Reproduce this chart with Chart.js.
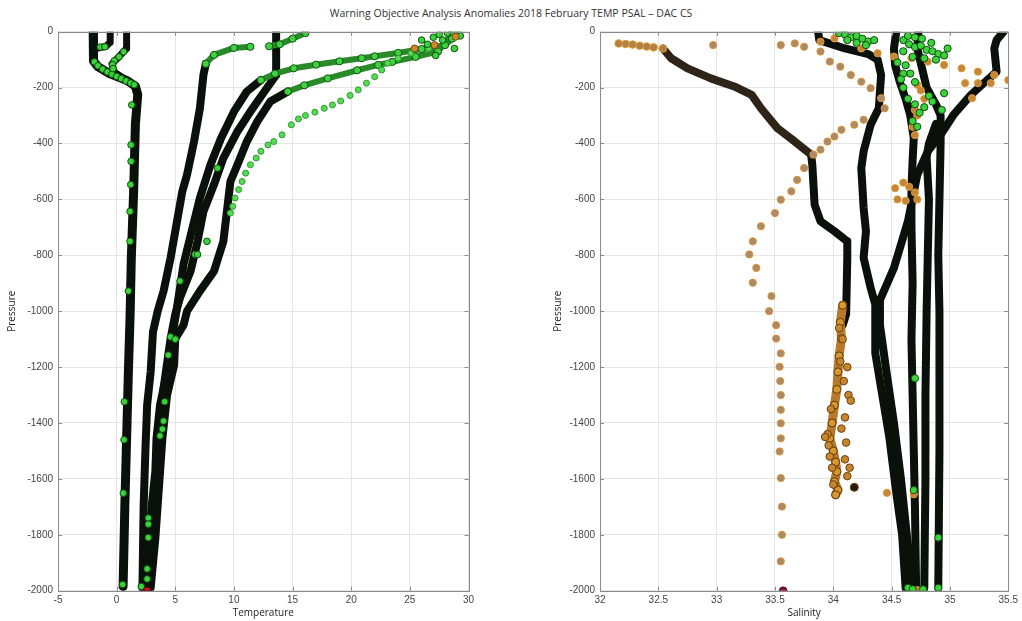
<!DOCTYPE html>
<html><head><meta charset="utf-8">
<script src="https://cdn.jsdelivr.net/npm/chart.js@4.4.0/dist/chart.umd.min.js"></script>
<style>
html,body{margin:0;padding:0;background:#fff;width:1022px;height:621px;overflow:hidden;position:relative;}
#title{position:absolute;left:0;top:6px;width:1022px;text-align:center;font:10.5px 'Open Sans',sans-serif;color:#333;white-space:nowrap;}
#c1{position:absolute;left:0;top:0;}
#c2{position:absolute;left:540px;top:0;}
</style></head>
<body>
<div id="title">Warning Objective Analysis Anomalies 2018 February TEMP PSAL – DAC CS</div>
<canvas id="c1" width="490" height="621"></canvas>
<canvas id="c2" width="482" height="621"></canvas>
<script>
// ---------------- tick labels ----------------
const tempTicks = [-5,0,5,10,15,20,25,30];
const salTicks = [32,32.5,33,33.5,34,34.5,35,35.5];
const presTicks = [0,-200,-400,-600,-800,-1000,-1200,-1400,-1600,-1800,-2000];

// ---------------- TEMPERATURE panel ----------------
const tL1 = [-2.0,-2.0,-1.95,-1.6,-0.6,0.9,1.6,1.8,1.6,1.45,1.25,1.15,1.0,0.85,0.7,0.55];
const pL1 = [0,-55,-105,-125,-150,-175,-195,-225,-330,-570,-810,-1010,-1220,-1455,-1695,-1985];
const tL2 = [-0.55,-0.55,-0.9,-1.5,-1.95];
const pL2 = [0,-38,-52,-58,-62];
const tL3 = [0.85,0.85,0.3,-0.4,-0.2,0.9];
const pL3 = [0,-60,-85,-115,-145,-175];
const tL4 = [7.6,7.4,7.1,6.6,6.0,5.6,5.1,4.6,4.0,3.5,3.1,2.9,2.6,2.45,2.3,2.2];
const pL4 = [-115,-155,-274,-393,-512,-571,-690,-809,-928,-1000,-1074,-1217,-1336,-1500,-1700,-1990];
const tL4g = [11.4,10.0,8.3,7.6];
const pL4g = [-54,-58,-83,-115];
const tW1 = [12.3,11.1,10.0,8.9,8.0,7.1,6.4,5.7,5.1,4.7,4.3,3.7,3.4,3.3,3.0,2.8,2.6];
const pW1 = [-173,-214,-286,-381,-476,-595,-714,-833,-1000,-1098,-1217,-1336,-1455,-1574,-1693,-1812,-1990];
const tW1g = [29.1,28.6,28.0,26.0,24.0,22.0,20.9,19.0,17.0,15.1,13.5,12.3];
const pW1g = [-6,-25,-48,-62,-76,-88,-95,-106,-118,-131,-150,-173];
const tW2 = [14.6,13.1,12.0,11.1,10.3,9.7,9.4,9.1,8.3,7.1,6.0,5.7,5.0,4.9,4.3,3.9,3.6,3.3,2.9];
const pW2 = [-214,-250,-321,-393,-476,-536,-643,-750,-857,-928,-1000,-1050,-1098,-1193,-1300,-1455,-1633,-1812,-1990];
const tW2g = [28.5,28.0,27.4,25.5,23.5,22.3,20.5,18.0,16.0,14.6];
const pW2g = [-10,-40,-71,-90,-108,-119,-138,-167,-192,-214];
const tW3 = [13.6,13.6,13.6,12.6,11.4,10.3,9.1,8.3,7.4,6.9,6.3,5.4,5.0,4.6,4.0,3.6,3.3,2.9,2.7];
const pW3 = [0,-54,-155,-214,-286,-357,-452,-547,-643,-750,-857,-952,-1011,-1098,-1276,-1455,-1693,-1931,-1990];
const tW3g = [16.1,15.0,13.9,13.0];
const pW3g = [-5,-25,-45,-52];
const tW4 = [26.6,25.1,24.0,23.1,22.6,22.0,21.3,20.6,19.9,19.1,18.4,17.7,16.9,16.1,15.5,14.9,14.1,13.4,12.9,12.3,11.9,11.4,11.0,10.7,10.4,10.1,9.9,9.7,7.7,6.7];
const pW4 = [-60,-77,-95,-113,-137,-161,-184,-208,-228,-248,-262,-274,-288,-300,-312,-333,-369,-393,-405,-428,-452,-476,-506,-536,-565,-595,-625,-649,-750,-797];
const tGreenT = [-1.9,-1.6,-1.2,-0.8,-0.4,0.0,0.4,0.8,1.2,1.5,0.6,0.2,-0.2,-0.35,-0.3,-1.4,-1.0,
  1.29,1.23,1.23,1.2,1.14,1.14,1.0,0.66,0.63,0.57,0.51,
  4.6,5.0,4.4,4.1,4.0,3.9,3.7,2.7,2.7,2.7,2.6,2.6,2.1,
  7.7,6.9,5.4,8.6,
  27.0,27.5,28.2,26.5,27.8,28.8,27.2,29.3,26.0];
const pGreenT = [-108,-122,-134,-144,-152,-160,-168,-176,-184,-190,-72,-90,-104,-118,-132,-55,-54,
  -262,-405,-464,-547,-643,-750,-928,-1324,-1460,-1651,-1978,
  -1092,-1100,-1157,-1324,-1393,-1422,-1446,-1740,-1762,-1810,-1922,-1958,-1985,
  -750,-797,-892,-488,
  -20,-10,-5,-45,-30,-60,-85,-15,-30];
const tOrangeT = [25.4,27.1,28.9];
const pOrangeT = [-60,-48,-18];
const tRed = [2.6];
const pRed = [-2000];

// ---------------- SALINITY panel ----------------
const sR1o = [32.16,32.22,32.28,32.34,32.40,32.46,32.54];
const pR1o = [-42,-44,-46,-50,-53,-56,-60];
const sR1b = [32.54,32.61,32.75,32.95,33.15,33.30,33.38,33.52,33.67,33.81];
const pR1b = [-60,-95,-131,-167,-196,-226,-274,-345,-393,-440];
const sR1 = [33.81,33.82,33.84,33.89,34.01,34.12,34.12,34.11,34.08];
const pR1 = [-440,-476,-619,-678,-714,-750,-809,-1011,-1050];
const sR1d = [34.08,34.06,34.07,34.05,34.04,34.03,34.01,33.99,33.97,34.0,34.02,34.03,34.01,34.04,34.02];
const pR1d = [-979,-1040,-1098,-1160,-1217,-1280,-1336,-1400,-1455,-1500,-1540,-1574,-1610,-1640,-1657];
const sR1x = [34.13,34.15,34.10,33.95,34.12,34.08,34.0,33.96,34.1,33.93,33.98,34.12,34.09,34.05,33.97,34.07,34.11,33.99,34.06,34.14];
const pR1x = [-1300,-1320,-1530,-1440,-1200,-1100,-1620,-1480,-1380,-1450,-1350,-1590,-1250,-1060,-1520,-1420,-1470,-1560,-1180,-1560];
const sR2 = [32.97,33.55,33.67,33.75,33.89,33.97,34.06,34.15,34.24,34.32,34.41,34.44,34.26,34.18,34.07,34.01,33.95,33.89,33.83,33.75,33.69,33.64,33.55,33.50,33.38,33.31,33.28,33.34,33.31,33.47,33.45,
  33.51,33.51,33.55,33.54,33.545,33.55,33.55,33.55,33.55,33.54,33.55,33.56,33.56,33.55];
const pR2 = [-48,-48,-42,-54,-71,-107,-125,-155,-179,-202,-238,-274,-315,-333,-351,-375,-393,-422,-440,-488,-530,-571,-601,-649,-696,-750,-797,-845,-898,-946,-1000,
  -1050,-1098,-1151,-1199,-1250,-1300,-1353,-1401,-1455,-1502,-1597,-1699,-1800,-1895];
const sR3 = [33.87,33.88,34.1,34.3,34.38,34.41,34.39,34.32,34.26,34.24,34.26,34.28,34.26,34.32,34.36,34.36,34.42,34.48,34.54,34.59,34.62];
const pR3 = [0,-30,-60,-80,-100,-155,-274,-333,-428,-488,-631,-714,-809,-916,-976,-1150,-1300,-1450,-1650,-1800,-1990];
const sR4 = [35.46,35.40,35.38,35.40,35.29,35.18,35.03,34.92,34.81,34.72,34.64,34.52,34.40,34.40,34.45,34.52,34.58,34.63,34.68];
const pR4 = [0,-30,-60,-143,-184,-226,-298,-369,-428,-512,-678,-845,-960,-1050,-1200,-1400,-1600,-1800,-1990];
const sR5 = [34.54,34.52,34.53,34.57,34.62,34.66,34.69,34.68,34.67,34.67,34.68,34.67,34.68,34.69,34.70,34.71];
const pR5 = [0,-60,-120,-180,-240,-300,-380,-460,-560,-700,-900,-1100,-1300,-1500,-1700,-1990];
const sR6 = [34.73,34.72,34.76,34.80,34.88,34.92,34.92,34.91,34.90,34.91,34.91,34.90];
const pR6 = [0,-60,-130,-200,-260,-300,-400,-600,-800,-1000,-1500,-1990];
const sR7 = [34.88,34.82,34.80,34.82,34.81,34.80,34.79,34.79,34.78];
const pR7 = [-330,-400,-450,-600,-800,-1000,-1300,-1600,-1990];
const sGreenS = [34.05,34.10,34.15,34.20,34.25,34.30,34.35,34.12,34.20,34.28,
  34.60,34.65,34.70,34.75,34.80,34.85,34.90,34.95,34.60,34.68,34.78,34.88,34.62,34.66,34.70,34.60,34.64,34.70,34.74,34.68,34.72,34.60,34.55,34.58,34.82,34.85,34.78,34.98,34.95,34.93,34.70,34.76,34.84,34.64,
  34.70,34.69,34.90,34.64,34.68,34.77,34.90];
const pGreenS = [-5,-10,-20,-15,-25,-35,-30,-30,-40,-48,
  -30,-45,-55,-50,-65,-70,-80,-85,-70,-90,-95,-100,-120,-150,-180,-200,-240,-260,-290,-320,-340,-150,-110,-170,-230,-250,-270,-60,-220,-280,-20,-25,-40,-15,
  -1240,-1640,-1810,-1990,-1995,-1995,-1990];
const sOrangeS = [33.89,34.01,34.12,34.24,34.38,34.52,34.67,34.81,34.95,35.10,35.24,35.38,35.50,35.13,35.24,35.35,35.19,
  34.72,34.75,34.78,34.70,34.72,34.68,34.70,34.53,34.60,34.65,34.70,34.55,34.62,34.72,34.72,34.46,34.69];
const pOrangeS = [-36,-24,-30,-60,-77,-89,-95,-107,-119,-131,-143,-155,-173,-184,-184,-184,-238,
  -190,-210,-240,-280,-300,-340,-370,-560,-540,-555,-575,-600,-605,-600,-1998,-1650,-1655];
const sDark = [34.18];
const pDark = [-1630];
const sMaroon = [33.57];
const pMaroon = [-2000];

// ---------------- helpers ----------------
const pts = (xs, ys) => xs.map((x, i) => ({x: x, y: ys[i]}));
const BLACK = '#0a100a';
function lineDS(xs, ys, color, w, order) {
  return {data: pts(xs, ys), showLine: true, borderColor: color, borderWidth: w, pointRadius: 0,
    borderCapStyle: 'round', borderJoinStyle: 'round', tension: 0, order: order};
}
function dotDS(xs, ys, fill, edge, r, order) {
  return {data: pts(xs, ys), showLine: false, backgroundColor: fill, borderColor: edge, borderWidth: 1,
    pointRadius: r, pointHoverRadius: r, order: order};
}
function greenLineDS(xs, ys, order) {
  return {data: pts(xs, ys), showLine: true, borderColor: '#2a8a2a', borderWidth: 6, pointRadius: 3.6,
    backgroundColor: '#3fd23f', pointBorderColor: '#145014', pointBorderWidth: 1,
    borderCapStyle: 'round', borderJoinStyle: 'round', tension: 0, order: order};
}

const boxPlugin = {
  id: 'boxTicks',
  afterDraw(chart) {
    const {ctx, chartArea: a, scales} = chart;
    const x = scales.x, y = scales.y;
    ctx.save();
    ctx.strokeStyle = '#8a8a8a';
    ctx.lineWidth = 1;
    ctx.beginPath();
    x.ticks.forEach(t => {
      const px = Math.round(x.getPixelForValue(t.value)) + 0.5;
      ctx.moveTo(px, a.bottom); ctx.lineTo(px, a.bottom - 4);
      ctx.moveTo(px, a.top); ctx.lineTo(px, a.top + 4);
    });
    y.ticks.forEach(t => {
      const py = Math.round(y.getPixelForValue(t.value)) + 0.5;
      ctx.moveTo(a.left, py); ctx.lineTo(a.left + 4, py);
      ctx.moveTo(a.right, py); ctx.lineTo(a.right - 4, py);
    });
    ctx.stroke();
    ctx.strokeRect(Math.round(a.left) + 0.5, Math.round(a.top) + 0.5, Math.round(a.right - a.left), Math.round(a.bottom - a.top));
    ctx.restore();
  }
};

function makeOptions(cfg) {
  const tickFont = {family: "'Liberation Sans', Arial, sans-serif", size: 10};
  const titleFont = {family: "'Open Sans', sans-serif", size: 10};
  return {
    responsive: false, animation: false, events: [],
    layout: {padding: {top: 31.7, right: cfg.padRight, bottom: 0, left: 0}},
    plugins: {legend: {display: false}, tooltip: {enabled: false}, title: {display: false}},
    scales: {
      x: {type: 'linear', min: cfg.xmin, max: cfg.xmax,
        afterBuildTicks: s => { s.ticks = cfg.xTicks.map(v => ({value: v})); },
        ticks: {font: tickFont, color: '#444', padding: 4, maxRotation: 0, autoSkip: false, callback: v => String(v)},
        grid: {color: '#e6e6e6', drawTicks: false},
        border: {display: false},
        title: {display: true, text: cfg.xTitle, font: titleFont, color: '#222', padding: {top: 0, bottom: 2}},
        afterFit: s => { s.height = 621 - 590.7; }
      },
      y: {type: 'linear', min: -2000, max: 0,
        afterBuildTicks: s => { s.ticks = presTicks.map(v => ({value: v})); },
        ticks: {font: tickFont, color: '#444', padding: 5, autoSkip: false, callback: v => String(v)},
        grid: {color: '#e6e6e6', drawTicks: false},
        border: {display: false},
        title: {display: true, text: 'Pressure', font: titleFont, color: '#222', padding: {top: cfg.yTitlePad, bottom: 0}},
        afterFit: s => { s.width = cfg.yWidth; }
      }
    }
  };
}

// ---------------- temperature chart ----------------
new Chart(document.getElementById('c1'), {
  type: 'scatter',
  data: {datasets: [
    dotDS(tRed, pRed, '#d0102a', '#7a0010', 3.5, 1),
    dotDS(tOrangeT, pOrangeT, '#d08a2a', '#7a4a10', 3.5, 2),
    dotDS(tGreenT, pGreenT, '#3ad43a', '#124a12', 3.3, 3),
    dotDS(tW4, pW4, '#55da55', '#2f9a2f', 3.0, 4),
    greenLineDS(tW1g, pW1g, 5),
    greenLineDS(tW2g, pW2g, 6),
    greenLineDS(tW3g, pW3g, 7),
    greenLineDS(tL4g, pL4g, 8),
    lineDS(tW1, pW1, BLACK, 8, 10),
    lineDS(tW2, pW2, BLACK, 8, 11),
    lineDS(tW3, pW3, BLACK, 8, 12),
    lineDS(tL4, pL4, BLACK, 8, 13),
    lineDS(tL3, pL3, BLACK, 7, 14),
    lineDS(tL2, pL2, BLACK, 7, 15),
    lineDS(tL1, pL1, BLACK, 9, 16)
  ]},
  options: makeOptions({xmin: -5, xmax: 30, xTicks: tempTicks, xTitle: 'Temperature', padRight: 21.5, yWidth: 58, yTitlePad: 6}),
  plugins: [boxPlugin]
});

// ---------------- salinity chart ----------------
new Chart(document.getElementById('c2'), {
  type: 'scatter',
  data: {datasets: [
    dotDS(sMaroon, pMaroon, '#8a1030', '#4a0018', 3.8, 1),
    dotDS(sDark, pDark, '#2a1a08', '#6a4010', 4, 2),
    dotDS(sGreenS, pGreenS, '#3ad43a', '#124a12', 3.6, 3),
    dotDS(sOrangeS, pOrangeS, '#c4873a', '#e09a30', 3.6, 4),
    dotDS(sR1x, pR1x, '#c8862c', '#6a4010', 3.8, 5),
    {data: pts(sR1d, pR1d), showLine: true, borderColor: '#b87a2a', borderWidth: 9, pointRadius: 4,
      backgroundColor: '#d8962e', pointBorderColor: '#5a3a12', pointBorderWidth: 1, borderCapStyle: 'round', borderJoinStyle: 'round', order: 6},
    dotDS(sR2, pR2, '#a88b6c', '#e0902a', 3.6, 7),
    dotDS(sR1o, pR1o, '#b08048', '#e39a2e', 3.8, 8),
    lineDS(sR1b, pR1b, '#2e2418', 8, 9),
    lineDS(sR1, pR1, BLACK, 8, 10),
    lineDS(sR3, pR3, BLACK, 8, 11),
    lineDS(sR4, pR4, BLACK, 8, 12),
    lineDS(sR5, pR5, BLACK, 8, 13),
    lineDS(sR6, pR6, BLACK, 8, 14),
    lineDS(sR7, pR7, BLACK, 8, 15)
  ]},
  options: makeOptions({xmin: 32, xmax: 35.5, xTicks: salTicks, xTitle: 'Salinity', padRight: 12, yWidth: 60, yTitlePad: 12}),
  plugins: [boxPlugin]
});
</script>
</body></html>
